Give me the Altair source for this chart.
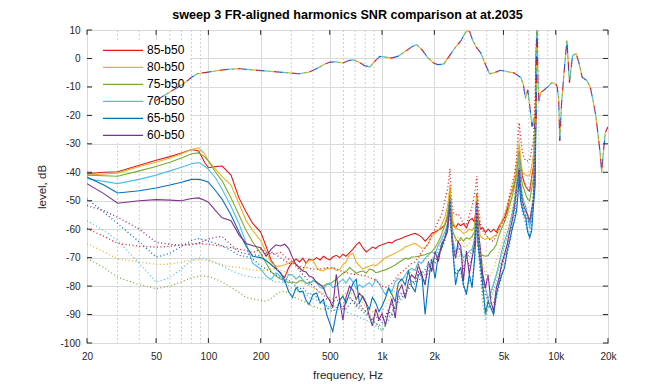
import altair as alt
import pandas as pd

# ---------------- data ----------------
FREQ_LOW = [20, 25, 30, 40, 50, 60, 70, 80, 88, 95, 100, 110, 120, 135, 150, 165, 180, 200, 215, 230, 245, 260, 275, 290]
FREQ_MID = [305, 320, 335, 350, 365, 380, 400, 420, 440, 460, 480, 500, 520, 545, 570, 595, 620, 650, 680, 710, 740, 775, 810, 845, 880, 920, 960, 1000]
FREQ_KHZ = [1045, 1090, 1140, 1190, 1240, 1300, 1360, 1420, 1480, 1550, 1620, 1690, 1770, 1850, 1930, 2020, 2110, 2200, 2300]
FREQ_HIGH = [2380, 2420, 2460, 2500, 2560, 2650, 2740, 2840, 2940, 3060, 3180, 3300, 3400, 3460, 3510, 3570, 3680, 3800, 3940, 4080,
             4230, 4390, 4550, 4720, 4890, 5070, 5250, 5430, 5610, 5790, 5950, 6060, 6160, 6280, 6420, 6570, 6720, 6900, 7080, 7260,
             7440, 7620, 7800, 7900]
FREQ = FREQ_LOW + FREQ_MID + FREQ_KHZ + FREQ_HIGH

SERIES = ["85-b50", "80-b50", "75-b50", "70-b50", "65-b50", "60-b50"]
COLORS = ["#e31a1c", "#EDB120", "#77AC30", "#4DBEEE", "#0072BD", "#7E2F8E"]

# solid lines
SOLID_85 = [-40.5, -40.0, -39.8, -37.5, -35.8, -34.5, -33.2, -32.0, -32.5, -36.5, -38.4, -38.0, -37.8, -41.0, -49.0, -54.0, -58.0, -61.0, -66.0, -71.0, -73.5, -75.5, -77.0, -73.5,
            -71.5, -70.5, -71.5, -70.2, -72.0, -70.5, -71.0, -70.0, -70.8, -69.5, -70.3, -70.8, -69.8, -69.2, -70.0, -68.8, -69.5, -68.2, -67.0, -65.5, -64.6, -66.5, -68.0, -67.2, -66.3, -66.8, -65.8, -65.5,
            -65.0, -64.6, -64.8, -64.0, -63.6, -63.2, -62.6, -62.2, -61.8, -61.5, -62.0, -62.8, -64.2, -63.0, -61.5, -61.0, -60.3, -59.6, -58.5,
            -56.0, -52.0, -45.5, -52.5, -58.5, -59.5, -58.0, -58.8, -58.0, -59.5, -57.0, -56.2, -57.5, -54.0, -47.5, -55.0, -60.0, -59.5, -61.2, -60.0,
            -61.0, -60.0, -61.0, -58.9, -57.5, -56.0, -53.5, -49.0, -46.5, -44.0, -40.8, -37.0, -32.5, -37.0, -41.0, -43.5, -45.0, -46.0, -46.6, -42.0,
            -38.0, -22.0, 15.0, 30.0]
SOLID_80 = [-41.0, -40.6, -40.3, -38.0, -36.5, -35.0, -33.5, -32.0, -31.4, -33.5, -36.0, -39.0, -41.5, -44.5, -51.0, -57.0, -60.5, -64.0, -68.0, -71.8, -73.0, -73.0, -72.5, -72.0,
            -71.5, -72.5, -74.0, -74.7, -72.0, -71.0, -70.8, -73.5, -74.5, -74.7, -73.8, -74.0, -73.5, -74.5, -74.2, -72.5, -71.5, -69.0, -68.5, -71.5, -72.8, -74.0, -73.5, -73.0, -72.5, -72.8, -72.0, -71.0,
            -70.0, -69.5, -69.0, -68.5, -67.8, -67.2, -66.2, -65.8, -65.3, -65.0, -65.8, -66.7, -66.5, -65.0, -62.6, -61.5, -60.5, -58.5, -55.8,
            -52.0, -49.0, -44.5, -51.0, -57.5, -59.5, -60.0, -60.5, -61.5, -61.0, -60.0, -60.5, -59.0, -55.0, -48.5, -57.0, -62.5, -63.2, -63.6, -63.0,
            -63.5, -62.5, -62.0, -60.0, -57.0, -54.8, -52.0, -49.0, -46.0, -42.0, -37.0, -33.0, -30.2, -35.0, -39.6, -40.5, -41.0, -41.3, -41.3, -38.0,
            -34.0, -20.0, 15.0, 30.0]
SOLID_75 = [-41.0, -41.2, -41.4, -39.5, -38.0, -36.5, -35.0, -33.5, -33.2, -34.5, -36.0, -40.0, -43.0, -49.0, -55.0, -60.5, -64.5, -68.5, -72.0, -75.0, -76.5, -77.5, -78.0, -78.8,
            -78.5, -79.0, -78.2, -78.0, -79.0, -78.8, -78.2, -78.4, -79.5, -80.0, -79.2, -79.4, -78.5, -77.6, -76.5, -75.5, -75.0, -73.5, -74.5, -75.5, -75.0, -74.7, -75.5, -74.0, -74.2, -75.3, -75.0, -74.6,
            -74.3, -73.8, -73.2, -72.6, -71.8, -71.0, -70.2, -70.5, -69.8, -69.7, -69.5, -69.2, -69.0, -68.5, -67.9, -66.5, -64.4, -62.0, -58.5,
            -55.0, -52.0, -48.6, -55.0, -61.0, -63.2, -64.5, -63.0, -64.2, -63.0, -63.5, -62.5, -61.0, -57.0, -50.0, -60.0, -68.9, -69.2, -69.5, -69.3,
            -67.8, -67.0, -65.4, -62.0, -59.7, -57.5, -55.0, -51.5, -48.5, -45.0, -40.0, -36.0, -32.6, -40.0, -44.3, -46.0, -47.8, -49.5, -50.1, -46.0,
            -42.0, -25.0, 15.0, 30.0]
SOLID_70 = [-42.3, -43.2, -44.0, -42.5, -41.0, -39.5, -38.2, -37.0, -36.6, -37.8, -39.0, -42.0, -46.0, -52.0, -58.0, -65.0, -72.0, -74.0, -76.5, -77.6, -75.3, -76.5, -78.8, -75.9,
            -76.0, -77.5, -76.5, -77.8, -79.0, -79.4, -78.0, -78.8, -80.5, -81.0, -79.5, -78.8, -80.5, -80.0, -78.5, -77.6, -79.0, -77.0, -78.5, -81.0, -79.5, -80.5, -79.5, -78.8, -80.0, -77.6, -79.0, -81.0,
            -83.0, -80.5, -82.0, -78.5, -77.3, -78.0, -76.1, -74.5, -73.8, -74.5, -71.4, -72.0, -70.2, -69.0, -67.9, -68.5, -65.6, -63.5, -61.0,
            -58.0, -55.0, -50.3, -58.0, -64.0, -67.9, -66.5, -67.5, -70.0, -69.0, -67.7, -67.0, -64.0, -58.0, -52.5, -65.0, -72.5, -76.5, -80.6, -84.5,
            -82.0, -79.0, -76.0, -72.0, -67.5, -64.2, -61.5, -58.5, -54.5, -50.0, -44.0, -38.5, -33.9, -44.0, -48.0, -50.5, -52.0, -55.5, -59.5, -55.0,
            -50.0, -30.0, 15.0, 30.0]
SOLID_65 = [-41.7, -44.5, -47.3, -46.5, -45.5, -44.5, -43.5, -42.5, -42.5, -43.0, -43.5, -46.5, -49.5, -55.0, -61.0, -66.0, -69.5, -70.0, -71.0, -72.5, -74.0, -75.3, -78.0, -82.0,
            -84.0, -80.5, -82.0, -81.8, -85.0, -86.5, -83.0, -82.4, -86.0, -84.7, -90.0, -93.0, -95.9, -89.4, -85.0, -83.5, -86.0, -82.4, -79.0, -77.6, -85.9, -83.5, -86.0, -88.2, -84.0, -85.9, -89.0, -87.0,
            -84.3, -80.8, -83.0, -85.5, -79.0, -77.5, -79.6, -74.5, -80.0, -82.0, -76.0, -75.0, -90.0, -78.5, -70.5, -77.3, -69.0, -66.7, -63.0,
            -59.0, -55.0, -49.0, -60.0, -67.9, -79.6, -75.0, -73.6, -79.4, -83.0, -75.9, -80.6, -71.3, -64.0, -53.6, -65.0, -71.2, -79.4, -90.0, -85.3,
            -87.6, -90.0, -83.0, -79.0, -76.0, -73.6, -67.7, -64.2, -60.0, -57.0, -53.6, -48.0, -41.9, -50.0, -52.5, -55.0, -56.0, -61.0, -63.0, -60.7,
            -52.0, -44.3, 15.0, 30.0]
SOLID_60 = [-44.0, -47.5, -50.9, -50.0, -49.6, -49.8, -50.0, -49.2, -49.0, -49.8, -50.5, -53.5, -56.0, -57.0, -62.0, -65.0, -65.8, -66.5, -69.5, -67.0, -65.5, -65.9, -65.3, -66.8,
            -70.0, -72.5, -73.5, -74.7, -75.0, -76.5, -77.0, -78.8, -79.5, -80.6, -83.5, -85.0, -87.6, -75.9, -85.0, -92.0, -84.0, -80.0, -81.5, -84.7, -82.5, -84.0, -86.0, -90.6, -94.0, -88.0, -91.8, -89.6,
            -93.7, -89.0, -84.3, -91.3, -82.0, -79.6, -84.3, -78.0, -76.1, -77.3, -72.6, -76.0, -79.6, -71.4, -74.9, -67.9, -71.4, -65.0, -63.2,
            -60.9, -57.0, -51.5, -58.0, -66.0, -70.2, -64.4, -66.0, -78.3, -67.7, -75.9, -70.0, -66.0, -60.0, -50.1, -60.0, -66.5, -75.9, -80.6, -76.0,
            -85.3, -88.8, -80.6, -77.0, -72.0, -68.9, -65.4, -60.7, -57.0, -52.0, -45.4, -42.0, -38.4, -45.0, -50.1, -52.0, -53.6, -55.0, -57.2, -53.0,
            -50.1, -35.0, 15.0, 30.0]

# dotted lines
DOT_85 = [-59.8, -62.5, -65.0, -66.0, -66.3, -66.0, -65.5, -65.2, -65.0, -65.2, -65.3, -65.7, -66.0, -66.5, -67.0, -67.5, -68.2, -67.0, -68.0, -68.8, -68.5, -68.2, -69.5, -70.6,
          -71.5, -72.5, -73.0, -73.5, -73.5, -73.8, -74.0, -74.1, -74.0, -73.8, -73.5, -73.6, -73.5, -74.0, -74.5, -75.0, -75.3, -75.5, -75.8, -75.9, -76.0, -76.3, -76.5, -77.0, -77.5, -78.0, -79.0, -80.0,
          -80.5, -80.0, -79.0, -77.5, -76.0, -75.0, -74.0, -73.0, -72.0, -71.5, -70.0, -68.0, -66.5, -65.0, -62.0, -60.0, -57.0, -55.0, -50.0,
          -46.0, -43.0, -38.7, -48.0, -54.0, -55.0, -54.6, -56.0, -58.0, -58.5, -55.0, -52.0, -48.0, -45.0, -41.3, -50.0, -58.0, -60.5, -62.0, -63.0,
          -64.0, -64.2, -62.0, -60.0, -58.0, -57.2, -52.0, -47.8, -44.0, -40.8, -35.0, -28.0, -22.6, -28.0, -32.5, -35.0, -36.0, -36.0, -36.0, -32.0,
          -29.0, -12.0, 15.0, 30.0]
DOT_80 = [-65.0, -68.0, -70.5, -71.5, -72.4, -72.3, -71.5, -70.8, -70.7, -71.0, -71.2, -71.6, -72.5, -73.2, -73.4, -74.0, -74.3, -74.5, -74.3, -74.0, -74.0, -74.5, -75.0, -76.0,
          -76.5, -77.5, -78.0, -79.0, -79.5, -80.0, -80.5, -81.5, -82.0, -82.5, -83.0, -84.0, -84.5, -84.0, -83.5, -83.0, -82.5, -82.0, -83.0, -84.0, -85.0, -86.0, -87.0, -88.0, -89.0, -89.5, -90.0, -89.0,
          -87.0, -85.0, -83.0, -81.5, -80.0, -78.5, -77.0, -76.0, -75.0, -74.0, -73.0, -72.0, -71.0, -69.5, -68.0, -66.5, -64.5, -62.0, -58.0,
          -54.0, -50.0, -45.0, -54.0, -61.0, -64.0, -63.0, -64.0, -66.0, -66.0, -65.0, -63.0, -60.0, -55.0, -48.0, -60.0, -68.0, -72.0, -76.0, -77.0,
          -76.0, -74.0, -71.0, -68.0, -65.0, -62.0, -58.0, -54.0, -50.0, -46.0, -40.0, -34.0, -28.0, -36.0, -42.0, -44.0, -45.0, -46.0, -46.0, -42.0,
          -36.0, -22.0, 15.0, 30.0]
DOT_75 = [-70.3, -73.5, -76.9, -79.5, -80.9, -80.0, -78.5, -77.0, -76.6, -76.5, -76.7, -77.5, -78.6, -80.4, -82.2, -84.0, -84.5, -85.1, -85.3, -84.3, -83.0, -82.0, -81.8, -82.4,
          -83.5, -84.2, -84.7, -85.2, -85.8, -86.5, -87.0, -87.5, -88.0, -88.2, -88.0, -87.5, -87.0, -87.0, -86.5, -86.0, -85.0, -84.0, -85.0, -86.0, -87.0, -88.0, -89.0, -90.0, -91.5, -93.0, -94.5, -95.5,
          -93.5, -91.0, -89.0, -86.5, -84.5, -83.0, -81.5, -80.0, -79.0, -77.5, -76.5, -75.5, -74.5, -73.0, -71.5, -70.0, -68.0, -65.5, -63.0,
          -59.0, -55.0, -50.0, -59.0, -66.0, -69.0, -68.0, -69.0, -71.0, -70.0, -69.0, -67.0, -63.0, -58.0, -52.0, -64.0, -74.0, -82.0, -90.0, -87.0,
          -84.0, -80.0, -76.0, -72.0, -68.0, -65.0, -62.0, -58.0, -54.0, -49.0, -44.0, -38.0, -34.0, -44.0, -49.0, -51.0, -53.0, -55.0, -57.0, -53.0,
          -47.0, -30.0, 15.0, 30.0]
DOT_70 = [-57.0, -60.5, -64.0, -72.0, -78.6, -77.0, -74.0, -71.0, -70.0, -70.3, -70.7, -72.0, -72.8, -74.5, -75.7, -76.5, -76.9, -77.0, -77.5, -78.0, -78.5, -78.5, -79.0, -80.0,
          -81.0, -81.5, -82.0, -82.5, -83.0, -84.0, -84.5, -85.0, -85.5, -86.0, -87.0, -87.5, -88.0, -88.5, -88.0, -88.5, -89.0, -89.5, -90.0, -90.5, -91.0, -91.5, -92.0, -92.5, -93.0, -94.0, -95.0, -96.0,
          -94.0, -92.0, -90.0, -88.0, -86.0, -84.5, -83.0, -81.0, -79.5, -78.0, -76.5, -75.0, -74.0, -72.0, -70.5, -69.0, -67.0, -64.5, -62.0,
          -58.0, -54.0, -49.0, -58.0, -66.0, -70.0, -69.0, -70.0, -72.0, -71.0, -70.0, -68.0, -64.0, -58.0, -52.0, -66.0, -76.0, -86.0, -92.0, -88.0,
          -85.0, -82.0, -78.0, -74.0, -70.0, -66.0, -63.0, -60.0, -56.0, -51.0, -46.0, -40.0, -35.0, -46.0, -51.0, -53.0, -55.0, -58.0, -60.0, -56.0,
          -50.0, -32.0, 15.0, 30.0]
DOT_65 = [-49.3, -54.0, -58.0, -64.5, -69.8, -68.5, -66.0, -64.0, -63.3, -63.8, -64.2, -65.0, -65.8, -67.5, -69.2, -69.6, -70.5, -72.8, -74.0, -75.1, -76.0, -77.0, -77.5, -78.0,
          -79.0, -80.0, -81.0, -80.5, -82.0, -83.0, -82.5, -84.0, -85.0, -86.0, -87.0, -88.5, -89.0, -87.5, -86.0, -87.0, -88.0, -86.5, -85.0, -86.0, -88.0, -89.0, -90.0, -91.0, -92.0, -93.0, -94.0, -93.0,
          -91.0, -89.0, -90.0, -87.0, -85.0, -84.0, -82.0, -81.0, -80.0, -79.0, -78.0, -77.0, -78.0, -75.0, -73.0, -72.0, -69.0, -67.0, -64.0,
          -60.0, -56.0, -50.0, -60.0, -68.0, -76.0, -74.0, -75.0, -80.0, -82.0, -78.0, -79.0, -72.0, -63.0, -54.0, -66.0, -74.0, -82.0, -88.0, -86.0,
          -88.0, -89.0, -84.0, -80.0, -76.0, -73.0, -69.0, -65.0, -60.0, -56.0, -51.0, -46.0, -41.0, -50.0, -54.0, -56.0, -58.0, -61.0, -62.0, -59.0,
          -50.0, -38.0, 15.0, 30.0]
DOT_60 = [-51.7, -53.5, -55.8, -60.0, -64.6, -65.3, -65.7, -65.5, -65.0, -64.0, -63.5, -62.8, -62.6, -65.5, -68.0, -68.7, -69.0, -69.3, -68.5, -68.0, -69.0, -70.0, -71.0, -72.0,
          -72.0, -73.0, -74.5, -76.0, -77.0, -78.5, -80.0, -81.0, -82.5, -83.0, -84.5, -85.0, -86.0, -84.0, -86.5, -88.0, -85.0, -84.0, -85.5, -87.0, -86.0, -88.0, -89.0, -90.5, -92.0, -90.0, -92.5, -91.0,
          -91.0, -88.0, -86.0, -88.0, -84.0, -82.0, -83.0, -80.0, -78.0, -79.0, -75.0, -77.0, -76.0, -73.0, -74.0, -70.0, -70.5, -66.0, -63.0,
          -60.0, -56.0, -50.0, -59.0, -66.0, -70.0, -66.0, -68.0, -74.0, -70.0, -73.0, -70.0, -65.0, -60.0, -51.0, -62.0, -70.0, -78.0, -83.0, -85.0,
          -86.0, -86.0, -82.0, -78.0, -73.0, -70.0, -66.0, -62.0, -58.0, -53.0, -47.0, -43.0, -39.0, -46.0, -51.0, -53.0, -55.0, -57.0, -58.0, -54.0,
          -48.0, -32.0, 15.0, 30.0]

# FR-aligned response (dashed, identical for every series)
FR_FREQ = [50, 55, 60, 66, 72, 80, 86, 92, 100, 115, 130, 152, 180, 227, 280, 330, 380, 419, 460, 500,
           545, 594, 640, 683, 730, 790, 853, 900, 970, 1050, 1129, 1237, 1400, 1500, 1585, 1700, 1850, 1982, 2100, 2271,
           2450, 2650, 2850, 3000, 3100, 3200, 3329, 3500, 3700, 3900, 4160, 4450, 4775, 5100, 5400, 5700, 6000, 6300, 6500, 6700,
           6900, 7100, 7300, 7450, 7600, 7700, 7790, 7900, 8000, 8200, 8600, 9000, 9500, 10000, 10200, 10400, 10550, 10800, 11200, 11600,
           12000, 12500, 13100, 13600, 14200, 15100, 15800, 16400, 17000, 17600, 18000, 18400, 18800, 19300, 20000]
FR_DB = [-14.8, -13.2, -11.8, -10.3, -8.9, -6.6, -5.4, -5.1, -4.8, -4.2, -3.8, -3.6, -4.0, -4.5, -5.0, -5.4, -4.8, -3.6, -2.2, -1.3,
         -1.2, -1.6, -0.8, -0.5, -1.2, -2.5, -3.0, -1.2, 0.7, 0.5, 0.1, 0.8, 3.0, 4.3, 4.8, 3.0, 0.0, -1.6, -2.2, -1.9,
         1.0, 4.0, 6.3, 8.8, 9.8, 9.3, 6.3, 3.8, 2.0, -1.5, -5.4, -5.0, -4.2, -4.4, -4.8, -5.0, -5.8, -6.7, -9.0, -14.0,
         -11.0, -17.0, -24.0, -21.0, -25.0, -22.0, 15.0, -8.0, -15.0, -12.0, -11.0, -10.0, -8.5, -9.0, -10.0, -14.0, -29.0, -16.0, -4.0, 6.3,
         -8.5, 1.0, 1.7, -1.5, -6.6, -7.7, -10.0, -14.8, -20.0, -27.7, -33.0, -40.0, -33.0, -26.0, -24.0]

X_MAJOR = [20, 50, 100, 200, 500, 1000, 2000, 5000, 10000, 20000]
X_MINOR = [30, 40, 60, 70, 80, 90, 300, 400, 600, 700, 800, 900, 3000, 4000, 6000, 7000, 8000, 9000]
Y_TICKS = [-100, -90, -80, -70, -60, -50, -40, -30, -20, -10, 0, 10]

# white panel behind the legend (in data units: Hz and dB)
LEGEND_PANEL = {"f1": 21.4, "f2": 78.0, "db1": 6.3, "db2": -29.5}

SOLID = [SOLID_85, SOLID_80, SOLID_75, SOLID_70, SOLID_65, SOLID_60]
DOTTED = [DOT_85, DOT_80, DOT_75, DOT_70, DOT_65, DOT_60]
for arr in SOLID + DOTTED:
    assert len(arr) == len(FREQ), len(arr)
assert len(FR_FREQ) == len(FR_DB)

# ---------------- tables ----------------
def table(groups):
    rows = []
    for name, vals in zip(SERIES, groups):
        for f, v in zip(FREQ, vals):
            rows.append({"f": f, "db": v, "series": name})
    return pd.DataFrame(rows)

solid_df = table(SOLID)
dot_df = table(DOTTED)
fr_df = pd.DataFrame({"f": FR_FREQ, "db": FR_DB})
minor_df = pd.DataFrame({"f": X_MINOR})
major_df = pd.DataFrame({"f": X_MAJOR})
ytick_df = pd.DataFrame({"db": Y_TICKS})

FONT = "Liberation Sans"
INK = "#262626"

xscale = alt.Scale(type="log", domain=[20, 20000], nice=False)
yscale = alt.Scale(domain=[-100, 10], nice=False)
cscale = alt.Scale(domain=SERIES, range=COLORS)

xaxis = alt.Axis(values=X_MAJOR, title="frequency, Hz", grid=True, gridColor="#dadada",
                 ticks=False, tickSize=0, domain=False, labelFlush=False, labelOverlap=False,
                 labelExpr="datum.value >= 1000 ? (datum.value / 1000) + 'k' : '' + datum.value",
                 labelFontSize=10, labelPadding=8, titleFontSize=11.5, titlePadding=8)
yaxis = alt.Axis(values=Y_TICKS, tickCount=12, title="level, dB", grid=True, gridColor="#dadada",
                 ticks=False, tickSize=0, domain=False, labelOverlap=False, labelExpr="'' + datum.value",
                 labelFontSize=10, labelPadding=7, titleFontSize=11.5, titlePadding=12)

X = alt.X("f:Q", scale=xscale, axis=xaxis)
Y = alt.Y("db:Q", scale=yscale, axis=yaxis)

legend = alt.Legend(title=None, orient="none", legendX=7, legendY=4, symbolType="stroke",
                    symbolSize=1600, symbolStrokeWidth=1.2, clipHeight=16.6, rowPadding=0,
                    labelOffset=3, labelFont=FONT, labelFontSize=12, labelColor="black", padding=8)

minor_grid = alt.Chart(minor_df).mark_rule(color="#d0d0d0", strokeDash=[2, 2], strokeWidth=1).encode(x=X)

legend_panel = alt.Chart(major_df).mark_rect(color="white").encode(
    x=alt.XDatum(LEGEND_PANEL["f1"], scale=xscale, axis=xaxis), x2=alt.X2Datum(LEGEND_PANEL["f2"]),
    y=alt.YDatum(LEGEND_PANEL["db1"], scale=yscale, axis=yaxis), y2=alt.Y2Datum(LEGEND_PANEL["db2"]))

solid = alt.Chart(solid_df).mark_line(strokeWidth=1.1, clip=True).encode(
    x=X, y=Y, color=alt.Color("series:N", scale=cscale, legend=legend, sort=SERIES))

dotted = alt.Chart(dot_df).mark_line(strokeDash=[1, 2.5], strokeWidth=1.3, clip=True).encode(
    x=X, y=Y, color=alt.Color("series:N", scale=cscale, legend=None, sort=SERIES))

fr_layers = [
    alt.Chart(fr_df).mark_line(color=c, strokeDash=[3, 15], strokeDashOffset=3 * i,
                               strokeWidth=1.2, clip=True).encode(x=X, y=Y)
    for i, c in enumerate(COLORS)
]

tick_bottom = alt.Chart(major_df).mark_rule(color=INK).encode(
    x=X, y=alt.YDatum(-100, scale=yscale, axis=yaxis), y2=alt.Y2Datum(-98.3))
tick_top = alt.Chart(major_df).mark_rule(color=INK).encode(
    x=X, y=alt.YDatum(10, scale=yscale, axis=yaxis), y2=alt.Y2Datum(8.3))
tick_left = alt.Chart(ytick_df).mark_rule(color=INK).encode(
    y=Y, x=alt.XDatum(20, scale=xscale, axis=xaxis), x2=alt.X2Datum(21.4))
tick_right = alt.Chart(ytick_df).mark_rule(color=INK).encode(
    y=Y, x=alt.XDatum(20000, scale=xscale, axis=xaxis), x2=alt.X2Datum(18700))

chart = alt.layer(minor_grid, legend_panel, solid, dotted, *fr_layers,
                  tick_bottom, tick_top, tick_left, tick_right).resolve_legend(
    color="independent"
).properties(
    width=521, height=313,
    autosize=alt.AutoSizeParams(type="none"),
    padding={"left": 79, "top": 22, "right": 30, "bottom": 40},
    title=alt.TitleParams("sweep 3 FR-aligned harmonics SNR comparison at at.2035", font=FONT,
                          fontSize=12.6, fontWeight="bold", color="black", anchor="middle", offset=3),
).configure_view(stroke=INK, strokeWidth=1).configure_axis(
    labelFont=FONT, titleFont=FONT, labelColor=INK, titleColor=INK, titleFontWeight="normal"
)

chart.save("out.html", embed_options={"renderer": "svg", "actions": False})
